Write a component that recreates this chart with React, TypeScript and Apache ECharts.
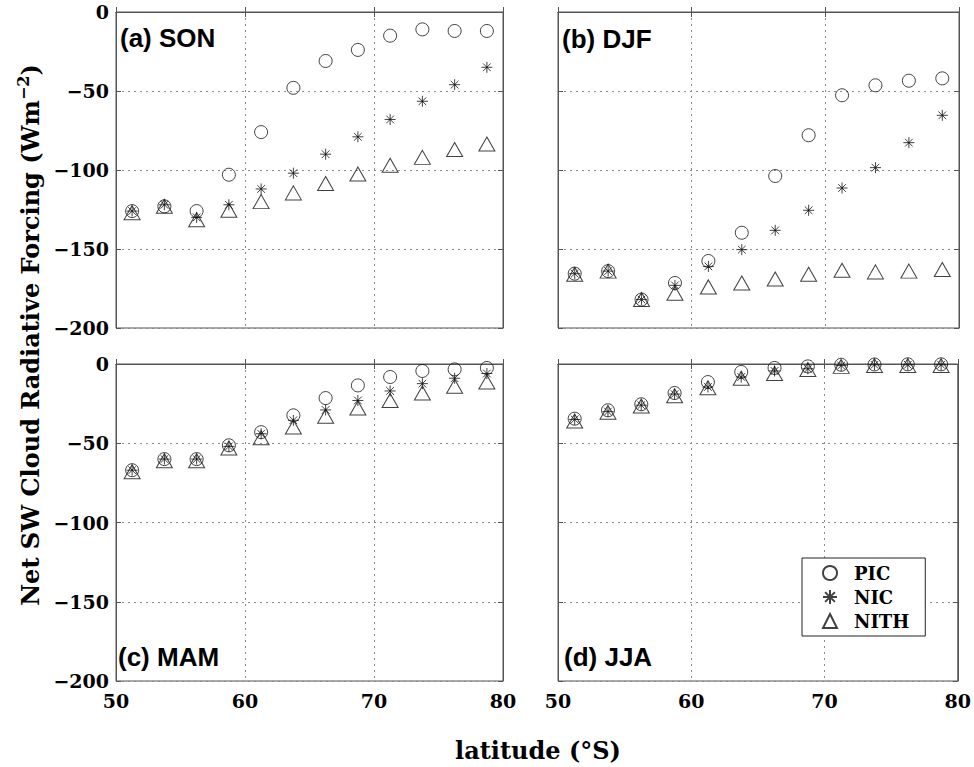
import { useEffect, useRef } from 'react';
import * as echarts from 'echarts';

// Latitude centres (°S)
const lat = [51.25, 53.75, 56.25, 58.75, 61.25, 63.75, 66.25, 68.75, 71.25, 73.75, 76.25, 78.75];

// (a) SON
const sonPIC = [-126, -123, -126, -103, -76, -48, -31, -24, -15, -11, -12, -12];
const sonNIC = [-126, -122, -130, -122, -112, -102, -90, -79, -68, -56.5, -46, -35];
const sonNITH = [-127, -123, -131.5, -125.5, -120, -114.5, -108.5, -102.5, -97, -92, -87, -83.5];

// (b) DJF
const djfPIC = [-165.6, -164, -182, -171.5, -157.6, -139.7, -103.8, -78, -52.7, -46.4, -43.5, -42];
const djfNIC = [-165.6, -164, -182, -173, -161, -150.4, -138.2, -125.5, -111.4, -98.5, -82.7, -65.4];
const djfNITH = [-166, -164, -182, -178, -174, -171.5, -169, -166, -163.5, -164.5, -164, -163];

// (c) MAM
const mamPIC = [-67, -60, -60, -51.3, -43, -32.4, -21.5, -13.5, -8.2, -4.4, -3.4, -2.5];
const mamNIC = [-67, -60, -60, -52, -44, -35.5, -29, -23, -17, -12.4, -9, -6];
const mamNITH = [-68, -61, -61, -53, -46.5, -39.7, -33, -27.8, -23, -18.3, -14, -11.4];

// (d) JJA
const jjaPIC = [-34.5, -29.2, -25.4, -18.3, -11.4, -5, -2.5, -1.5, -0.5, -0.3, -0.2, -0.2];
const jjaNIC = [-35, -30, -26, -19, -14.5, -8.2, -4.4, -3, -1, -0.5, -0.5, -0.5];
const jjaNITH = [-36, -30.5, -26.5, -20, -15, -9, -6, -3.5, -1.5, -1, -1, -1];

const panelTitles = ['(a) SON', '(b) DJF', '(c) MAM', '(d) JJA'];
const seriesNames = ['PIC', 'NIC', 'NITH'];
const panelData = [
  [sonPIC, sonNIC, sonNITH],
  [djfPIC, djfNIC, djfNITH],
  [mamPIC, mamNIC, mamNITH],
  [jjaPIC, jjaNIC, jjaNITH],
];

const xMin = 50, xMax = 80, xStep = 10;
const yMin = -200, yMax = 0, yStep = 50;

const grids = [
  { left: 116, top: 12, width: 387, height: 316 },
  { left: 558, top: 12, width: 401, height: 316 },
  { left: 116, top: 364, width: 387, height: 317 },
  { left: 558, top: 364, width: 401, height: 317 },
];
const titlePos = [
  { left: 120, top: 25 },
  { left: 562, top: 26 },
  { left: 118, top: 644 },
  { left: 564, top: 644 },
];

const AXIS = '#555';
const GRIDC = '#8a8a8a';
const SERIF = 'DejaVu Serif';
const ASTERISK = 'path://M5 0L5 10M0 5L10 5M1.5 1.5L8.5 8.5M1.5 8.5L8.5 1.5';

const symbols: any[] = [
  { symbol: 'circle', size: 13 },
  { symbol: ASTERISK, size: 11 },
  { symbol: 'triangle', size: [16, 14] },
];

const fmtY = (v: number) => (v < 0 ? '\u2212' + Math.abs(v) : String(v));

function buildOption() {
  const xAxis: any[] = [];
  const yAxis: any[] = [];
  const series: any[] = [];
  grids.forEach((_, p) => {
    const bottomRow = p >= 2;
    const leftCol = p % 2 === 0;
    xAxis.push({
      type: 'value', gridIndex: p, position: 'bottom', min: xMin, max: xMax, interval: xStep,
      axisLine: { show: true, lineStyle: { color: AXIS, width: 1 } },
      axisTick: { show: true, inside: true, length: 5, lineStyle: { color: AXIS } },
      axisLabel: {
        show: bottomRow, margin: 10, color: '#000', fontFamily: SERIF, fontWeight: 'bold', fontSize: 19,
      },
      splitLine: { show: true, lineStyle: { color: GRIDC, type: [2, 4], width: 1 } },
    });
    xAxis.push({
      type: 'value', gridIndex: p, position: 'top', min: xMin, max: xMax, interval: xStep,
      axisLine: { show: true, lineStyle: { color: AXIS, width: 1 } },
      axisTick: { show: true, inside: true, length: 5, lineStyle: { color: AXIS } },
      axisLabel: { show: false },
      splitLine: { show: false },
    });
    yAxis.push({
      type: 'value', gridIndex: p, position: 'left', min: yMin, max: yMax, interval: yStep,
      axisLine: { show: true, lineStyle: { color: AXIS, width: 1 } },
      axisTick: { show: true, inside: true, length: 5, lineStyle: { color: AXIS } },
      axisLabel: {
        show: leftCol, margin: 7, color: '#000', fontFamily: SERIF, fontWeight: 'bold', fontSize: 19,
        formatter: fmtY,
      },
      splitLine: { show: true, lineStyle: { color: GRIDC, type: [2, 4], width: 1 } },
    });
    yAxis.push({
      type: 'value', gridIndex: p, position: 'right', min: yMin, max: yMax, interval: yStep,
      axisLine: { show: true, lineStyle: { color: AXIS, width: 1 } },
      axisTick: { show: true, inside: true, length: 5, lineStyle: { color: AXIS } },
      axisLabel: { show: false },
      splitLine: { show: false },
    });
    panelData[p].forEach((vals, s) => {
      series.push({
        type: 'scatter',
        name: seriesNames[s],
        xAxisIndex: p * 2,
        yAxisIndex: p * 2,
        symbol: symbols[s].symbol,
        symbolSize: symbols[s].size,
        itemStyle: { color: 'transparent', borderColor: '#111', borderWidth: 1 },
        emphasis: { disabled: true },
        clip: false,
        data: lat.map((x, i) => [x, vals[i]]),
      });
    });
  });

  return {
    animation: false,
    backgroundColor: '#fff',
    grid: grids.map((g) => ({ ...g, show: true, borderColor: AXIS, borderWidth: 1, backgroundColor: 'transparent' })),
    xAxis,
    yAxis,
    series,
    title: panelTitles.map((t, i) => ({
      text: t,
      left: titlePos[i].left,
      top: titlePos[i].top,
      padding: 0,
      textStyle: { fontFamily: 'Liberation Sans', fontWeight: 'bold', fontSize: 26, color: '#000', lineHeight: 26 },
    })),
    legend: {
      data: seriesNames,
      orient: 'vertical',
      left: 802,
      top: 558,
      padding: [6, 16, 6, 20],
      itemGap: 6,
      itemWidth: 14,
      itemHeight: 14,
      borderColor: '#222',
      borderWidth: 1,
      backgroundColor: '#fff',
      selectedMode: false,
      textStyle: { fontFamily: SERIF, fontWeight: 'bold', fontSize: 18, color: '#000', padding: [0, 0, 0, 12] },
    },
    graphic: [
      {
        type: 'text',
        x: 30,
        y: 335,
        rotation: Math.PI / 2,
        style: {
          text: '{a|Net SW Cloud Radiative Forcing (Wm}{s|\u22122}{a|)}',
          textAlign: 'center',
          textVerticalAlign: 'middle',
          fill: '#000',
          rich: {
            a: { fontFamily: SERIF, fontWeight: 'bold', fontSize: 24, lineHeight: 29, fill: '#000' },
            s: { fontFamily: SERIF, fontWeight: 'bold', fontSize: 16, lineHeight: 16, verticalAlign: 'top', fill: '#000' },
          },
        },
      },
      {
        type: 'text',
        x: 538,
        y: 750,
        style: {
          text: 'latitude (\u00b0S)',
          textAlign: 'center',
          textVerticalAlign: 'middle',
          fontFamily: SERIF,
          fontWeight: 'bold',
          fontSize: 24,
          fill: '#000',
        },
      },
    ],
  };
}

export default function App() {
  const ref = useRef<HTMLDivElement>(null);
  useEffect(() => {
    document.body.style.margin = '0';
    const chart = echarts.init(ref.current!, null, { renderer: 'svg' });
    chart.setOption(buildOption() as any);
    return () => chart.dispose();
  }, []);
  return <div ref={ref} style={{ width: 974, height: 767 }} />;
}
